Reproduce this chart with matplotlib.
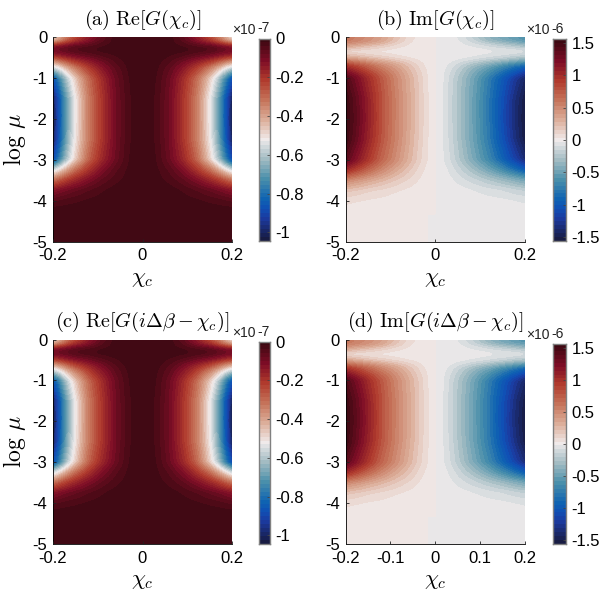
import numpy as np
import matplotlib
matplotlib.use("Agg")
import matplotlib.pyplot as plt
from matplotlib.colors import LinearSegmentedColormap

plt.rcParams['font.family'] = ['Liberation Sans', 'DejaVu Sans']
plt.rcParams['mathtext.fontset'] = 'cm'

# --- data (values at chi >= 0, mirrored for chi < 0) ---
chi_re = [0, .03, .06, .09, .12, .15, .17, .185, .2]
mu_re = [0, -.1, -.2, -.3, -.45, -.6, -.75, -1, -1.5, -2, -2.5, -3, -3.25, -3.5, -3.75, -4, -4.3, -5]
re_vals = [  # units of 1e-7
    [0, 0, -.01, -.06, -.14, -.24, -.33, -.42, -.50],
    [0, 0, -.01, -.05, -.12, -.20, -.28, -.36, -.43],
    [0, 0, -.01, -.03, -.06, -.09, -.13, -.17, -.20],
    [0, 0, -.005, -.01, -.02, -.03, -.05, -.06, -.07],
    [0, -.005, -.02, -.04, -.07, -.10, -.13, -.16, -.18],
    [0, -.01, -.04, -.09, -.15, -.22, -.29, -.35, -.40],
    [0, -.015, -.06, -.13, -.22, -.34, -.44, -.54, -.60],
    [0, -.02, -.08, -.18, -.30, -.47, -.62, -.77, -.90],
    [0, -.025, -.09, -.20, -.33, -.53, -.71, -.88, -1.03],
    [0, -.025, -.09, -.20, -.33, -.53, -.71, -.88, -1.05],
    [0, -.025, -.09, -.20, -.33, -.52, -.70, -.87, -1.03],
    [0, -.02, -.08, -.17, -.29, -.48, -.63, -.78, -.92],
    [0, -.015, -.05, -.11, -.20, -.31, -.42, -.51, -.59],
    [0, -.01, -.03, -.06, -.11, -.17, -.22, -.27, -.32],
    [0, 0, -.01, -.025, -.045, -.07, -.09, -.11, -.13],
    [0, 0, -.005, -.01, -.018, -.028, -.035, -.043, -.05],
    [0, 0, 0, 0, 0, 0, 0, 0, 0],
    [0, 0, 0, 0, 0, 0, 0, 0, 0],
]
chi_im = [0, .01, .03, .06, .09, .12, .15, .175, .2]
mu_im = [0, -.1, -.2, -.35, -.5, -.7, -.85, -1, -1.5, -2, -2.5, -3, -3.25, -3.5, -3.75, -4, -4.25, -5]
im_vals = [  # units of 1e-6, value at chi < 0 side (sign flips for chi > 0)
    [0, 0, .02, .10, .24, .38, .48, .55, .62],
    [0, 0, .015, .08, .20, .35, .45, .52, .58],
    [0, 0, .01, .05, .10, .17, .24, .30, .38],
    [0, 0, 0, .01, .02, .035, .05, .065, .08],
    [0, .005, .02, .05, .09, .14, .19, .25, .30],
    [0, .015, .08, .22, .37, .51, .68, .82, .95],
    [0, .02, .11, .28, .47, .66, .87, 1.05, 1.22],
    [0, .02, .13, .32, .53, .77, 1.02, 1.25, 1.45],
    [0, .03, .14, .34, .56, .81, 1.10, 1.35, 1.55],
    [0, .03, .14, .34, .56, .81, 1.12, 1.37, 1.57],
    [0, .03, .13, .33, .55, .79, 1.08, 1.33, 1.55],
    [0, .03, .11, .29, .49, .70, .95, 1.18, 1.40],
    [0, .02, .07, .20, .34, .50, .68, .85, 1.02],
    [0, .01, .04, .11, .18, .26, .34, .42, .50],
    [0, .005, .015, .04, .07, .10, .13, .17, .20],
    [0, 0, .005, .015, .025, .04, .05, .065, .08],
    [0, 0, 0, .003, .006, .01, .015, .02, .03],
    [0, 0, 0, 0, 0, 0, 0, 0, 0],
]
titles = [r'$\mathrm{(a)\ Re}[G(\chi_c)]$', r'$\mathrm{(b)\ Im}[G(\chi_c)]$',
          r'$\mathrm{(c)\ Re}[G(i\Delta\beta-\chi_c)]$', r'$\mathrm{(d)\ Im}[G(i\Delta\beta-\chi_c)]$']
re_ticks = [0, -.2, -.4, -.6, -.8, -1]
re_labels = ['0', '-0.2', '-0.4', '-0.6', '-0.8', '-1']
im_ticks = [1.5, 1, .5, 0, -.5, -1, -1.5]
im_labels = ['1.5', '1', '0.5', '0', '-0.5', '-1', '-1.5']
mu_ticks = [0, -1, -2, -3, -4, -5]
mu_labels = ['0', '-1', '-2', '-3', '-4', '-5']

balance = LinearSegmentedColormap.from_list('bal', [
    (0.00, '#181c43'), (0.10, '#1c3a9e'), (0.15, '#1050b5'), (0.20, '#0f63b2'), (0.30, '#4b90ab'),
    (0.40, '#a3bcc3'), (0.50, '#f1ecec'), (0.60, '#dcae9a'), (0.70, '#c6745a'),
    (0.80, '#b03a2d'), (0.90, '#7d0d26'), (1.00, '#3c0912')], N=256)

PX = 600.0
def rect(x0, x1, y0, y1):
    return [x0 / PX, 1 - y1 / PX, (x1 - x0) / PX, (y1 - y0) / PX]

def smooth(a, k, axis, odd=False):
    w = np.ones(k) / k
    pad = [(0, 0), (0, 0)]
    pad[axis] = (k // 2, k // 2)
    if odd:
        b = np.pad(a, pad, mode='reflect', reflect_type='odd')
    else:
        b = np.pad(a, pad, mode='edge')
    return np.apply_along_axis(lambda r: np.convolve(r, w, mode='valid'), axis, b)

def field(chi, mu, vals, sign):
    chi = np.array(chi); mu = np.array(mu)[::-1]; vals = np.array(vals, float)[::-1]
    cf = np.linspace(0, .2, 101)
    mf = np.linspace(-5, 0, 501)
    a = np.array([np.interp(cf, chi, r) for r in vals])
    b = np.array([np.interp(mf, mu, c) for c in a.T]).T
    for _ in range(2):
        b = smooth(b, 9, 0)
        b = smooth(b, 7, 1, odd=True)
    left = b[:, ::-1][:, :-1]
    right = sign * b
    return np.r_[-cf[::-1][:-1], cf], mf, np.c_[left, right]

fig = plt.figure(figsize=(6, 6), dpi=100)
FS = 12
panels = [
    (53, 232, 37, 241.5, 258.5, 270, 38.5, 241, 're', True, False),
    (345.5, 524.5, 37, 241.5, 552.7, 565.7, 39, 241, 'im', False, False),
    (53, 232, 339.5, 544, 258.5, 270, 341.7, 544, 're', True, False),
    (345.5, 525, 339.5, 544, 552.7, 565.7, 343.7, 544, 'im', False, True),
]
for i, (x0, x1, y0, y1, c0, c1, d0, d1, kind, ylab, extra) in enumerate(panels):
    ax = fig.add_axes(rect(x0, x1, y0, y1))
    if kind == 're':
        X, Y, Z = field(chi_re, mu_re, re_vals, 1)
        vmin, vmax, ticks, labels, exp = -1.045, 0, re_ticks, re_labels, '-7'
    else:
        X, Y, Z = field(chi_im, mu_im, im_vals, -1)
        vmin, vmax, ticks, labels, exp = -1.56, 1.56, im_ticks, im_labels, '-6'
    levels = np.linspace(vmin, vmax, 51)
    cs = ax.contourf(X, Y, np.clip(Z, vmin + 1e-6, vmax - 1e-6), levels=levels, cmap=balance,
                     vmin=vmin, vmax=vmax)
    cs.set_edgecolor('face')
    cs.set_linewidth(0.4)
    ax.set_xlim(-.2, .2); ax.set_ylim(-5, 0)
    xt = [-.2, -.1, 0, .1, .2] if extra else [-.2, 0, .2]
    xl = ['-0.2', '-0.1', '0', '0.1', '0.2'] if extra else ['-0.2', '0', '0.2']
    ax.set_xticks(xt); ax.set_xticklabels(xl, fontsize=FS)
    ax.set_yticks(mu_ticks); ax.set_yticklabels(mu_labels, fontsize=FS)
    ax.tick_params(direction='in', length=2, width=.6, top=False, right=False, color='#222222')
    ax.tick_params(axis='x', pad=5)
    ax.tick_params(axis='y', pad=4)
    ax.set_axisbelow(False)
    for s in ('top', 'right'):
        ax.spines[s].set_visible(False)
    for s in ('left', 'bottom'):
        ax.spines[s].set_linewidth(.6)
    ax.set_xlabel(r'$\chi_c$', fontsize=16, labelpad=3)
    if ylab:
        ax.set_ylabel(r'$\log\,\mu$', fontsize=17, labelpad=3)
    ax.set_title(titles[i], fontsize=14.5, pad=9)

    cax = fig.add_axes(rect(c0, c1, d0, d1))
    grad = np.linspace(vmin, vmax, 51).reshape(-1, 1)
    cax.imshow(grad, origin='lower', aspect='auto', cmap=balance, vmin=vmin, vmax=vmax,
               extent=[0, 1, vmin, vmax], interpolation='nearest')
    cax.set_xticks([])
    cax.yaxis.tick_right()
    cax.set_yticks(ticks); cax.set_yticklabels(labels, fontsize=FS)
    cax.tick_params(axis='y', direction='in', length=2, width=.6, pad=4, color='#444444')
    for s in cax.spines.values():
        s.set_color('#808080'); s.set_linewidth(1.0)
    fig.text((c0 - 26.5) / PX, 1 - (d0 - 4.5) / PX, '\u00d710', fontsize=10, color='#222222', ha='left', va='baseline')
    fig.text((c0 - 1.5) / PX, 1 - (d0 - 6) / PX, exp, fontsize=10, color='#222222', ha='left', va='baseline')

fig.savefig('out.png', dpi=100)
